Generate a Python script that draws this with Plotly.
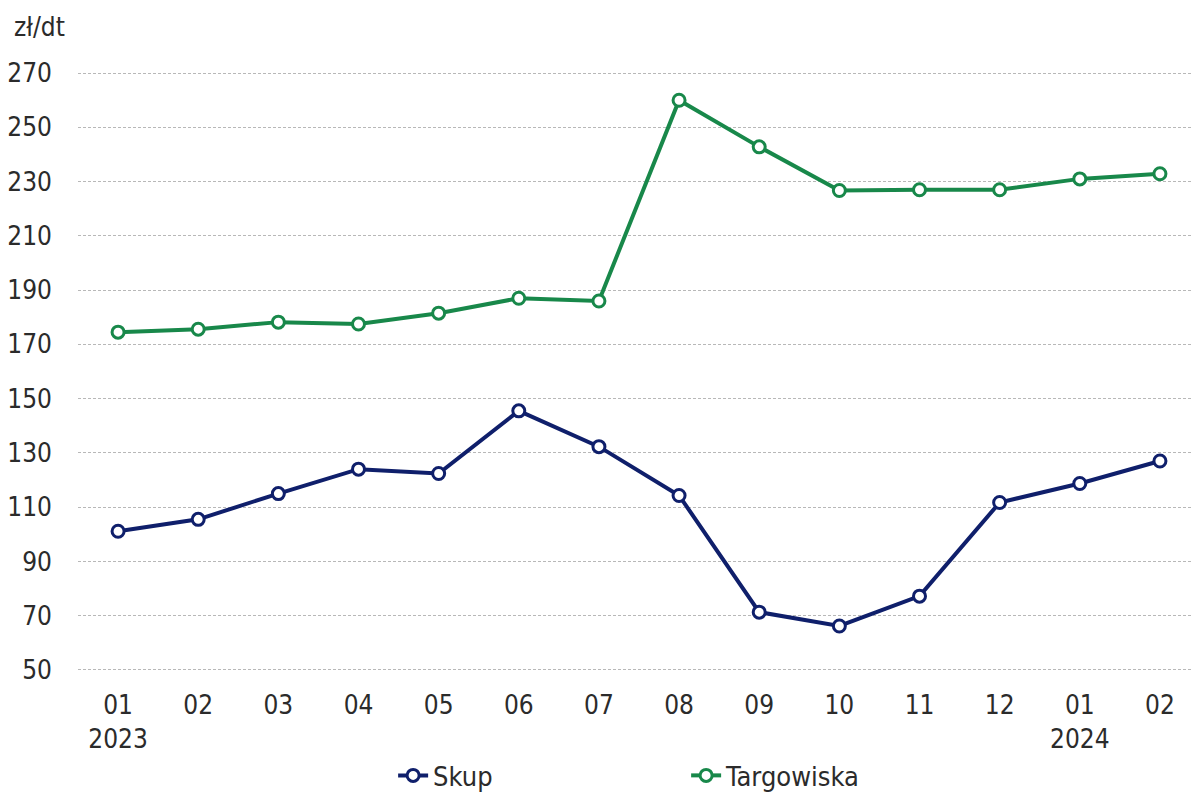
import plotly.graph_objects as go

months = ["01", "02", "03", "04", "05", "06", "07", "08", "09", "10", "11", "12", "01", "02"]
tick_text = ["01<br>2023", "02", "03", "04", "05", "06", "07", "08", "09", "10", "11", "12", "01<br>2024", "02"]
skup = [101.1, 105.5, 115.0, 124.0, 122.4, 145.5, 132.3, 114.3, 71.3, 66.2, 77.2, 111.7, 118.7, 127.0]
targowiska = [174.5, 175.6, 178.2, 177.5, 181.5, 187.0, 186.0, 260.0, 242.8, 226.7, 227.0, 227.0, 231.0, 232.9]
y_ticks = [50, 70, 90, 110, 130, 150, 170, 190, 210, 230, 250, 270]

BLUE = "#0f1f6b"
GREEN = "#18884a"
FONT = "Liberation Sans Narrow, DejaVu Sans Condensed, Noto Sans"
TXT = "#2b2b2b"

x = list(range(len(months)))

fig = go.Figure()
fig.add_trace(go.Scatter(
    x=x, y=skup, name="Skup", mode="lines+markers",
    line=dict(color=BLUE, width=4),
    marker=dict(symbol="circle", size=12, color="white", line=dict(color=BLUE, width=3)),
))
fig.add_trace(go.Scatter(
    x=x, y=targowiska, name="Targowiska", mode="lines+markers",
    line=dict(color=GREEN, width=4),
    marker=dict(symbol="circle", size=12, color="white", line=dict(color=GREEN, width=3)),
))

fig.update_layout(
    width=1192, height=792,
    paper_bgcolor="white", plot_bgcolor="white",
    margin=dict(l=70, r=0, t=64, b=129, autoexpand=False),
    font=dict(family=FONT, size=26, color=TXT),
    showlegend=True,
    legend=dict(orientation="h", x=0.542, xanchor="center", y=-0.175, yanchor="middle",
                font=dict(size=27), entrywidth=248, entrywidthmode="pixels"),
    xaxis=dict(
        tickmode="array", tickvals=x, ticktext=tick_text,
        range=[-0.5, len(months) - 0.5],
        showgrid=False, zeroline=False, showline=False, ticks="",
        tickfont=dict(size=26), ticklabelstandoff=16,
    ),
    yaxis=dict(
        tickmode="array", tickvals=y_ticks,
        range=[49.6, 270.4],
        showgrid=True, gridcolor="#b8b8b8", griddash="3px,2px", gridwidth=1,
        zeroline=False, showline=False, ticks="",
        tickfont=dict(size=26), ticklabelstandoff=25,
    ),
    annotations=[dict(
        text="zł/dt", xref="paper", yref="paper", x=-70/1122, y=1 + 45/599,
        xanchor="left", yanchor="middle", showarrow=False, xshift=4,
        font=dict(size=26, family=FONT, color=TXT),
    )],
)

fig.write_html("out.html")
